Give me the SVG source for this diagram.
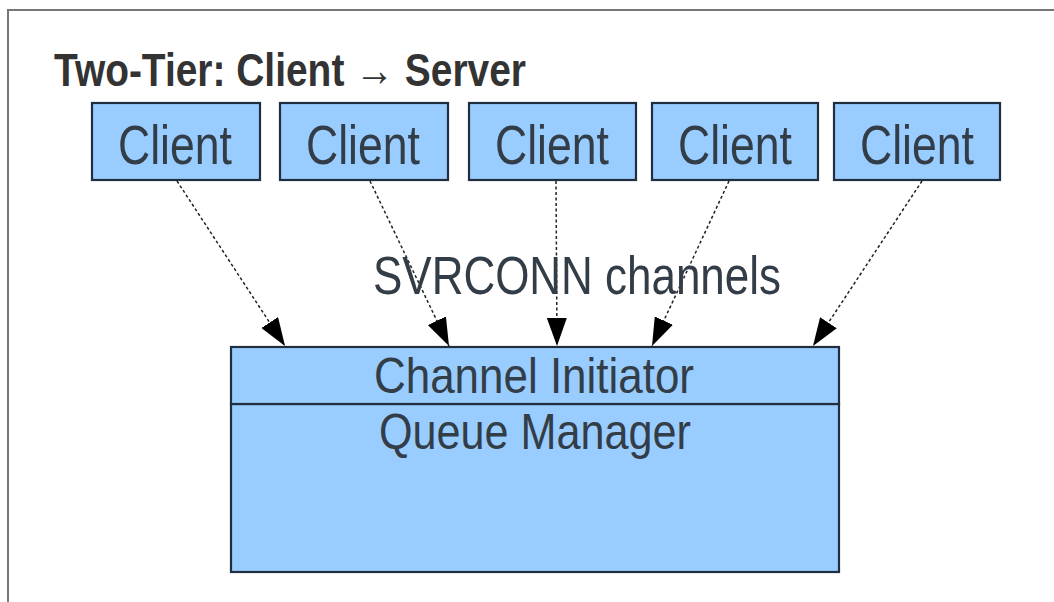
<svg xmlns="http://www.w3.org/2000/svg" width="1054" height="602" viewBox="0 0 1054 602">
<style>
.box{fill:#99ccff;stroke:#1f2f3f;stroke-width:2.2}
.lbl{font-family:"Liberation Sans",Arial,sans-serif;font-size:54px;fill:#333d47;text-anchor:middle}
.cl{font-size:56px}
.mg{font-size:50px}
.title{font-family:"Liberation Sans",Arial,sans-serif;font-size:46px;font-weight:bold;fill:#333}
.conn{stroke:#222;stroke-width:1.5;stroke-dasharray:3,2.5;fill:none}
</style>
<defs>
<marker id="ah" viewBox="0 0 10 10" refX="10" refY="5" markerWidth="28" markerHeight="20" markerUnits="userSpaceOnUse" orient="auto" preserveAspectRatio="none">
<path d="M0,0 L10,5 L0,10 z" fill="#000"/>
</marker>
</defs>
<rect x="0" y="0" width="1054" height="602" fill="#fff"/>
<g id="frame">
<path d="M8,602 L8,10 L1054,10" fill="none" stroke="#777" stroke-width="2"/>
</g>
<text class="title" x="54" y="86" textLength="472" lengthAdjust="spacingAndGlyphs">Two-Tier: Client → Server</text>
<g id="client1"><rect class="box" x="92" y="103" width="168" height="77"/><text class="lbl cl" x="175" y="164" textLength="114" lengthAdjust="spacingAndGlyphs">Client</text></g>
<g id="client2"><rect class="box" x="280" y="103" width="168" height="77"/><text class="lbl cl" x="363" y="164" textLength="114" lengthAdjust="spacingAndGlyphs">Client</text></g>
<g id="client3"><rect class="box" x="469" y="103" width="167" height="77"/><text class="lbl cl" x="552" y="164" textLength="114" lengthAdjust="spacingAndGlyphs">Client</text></g>
<g id="client4"><rect class="box" x="652" y="103" width="166" height="77"/><text class="lbl cl" x="735" y="164" textLength="114" lengthAdjust="spacingAndGlyphs">Client</text></g>
<g id="client5"><rect class="box" x="834" y="103" width="166" height="77"/><text class="lbl cl" x="917" y="164" textLength="114" lengthAdjust="spacingAndGlyphs">Client</text></g>
<g id="qmgr">
<rect class="box" x="231" y="404" width="608" height="168"/>
<text class="lbl mg" x="535" y="449" textLength="312" lengthAdjust="spacingAndGlyphs">Queue Manager</text>
</g>
<g id="chinit">
<rect class="box" x="231" y="347" width="608" height="57"/>
<text class="lbl mg" x="534" y="393" textLength="320" lengthAdjust="spacingAndGlyphs">Channel Initiator</text>
</g>
<g id="connectors">
<line class="conn" x1="177" y1="181" x2="285" y2="346" marker-end="url(#ah)"/>
<line class="conn" x1="370" y1="181" x2="449" y2="346" marker-end="url(#ah)"/>
<line class="conn" x1="556" y1="181" x2="557" y2="346" marker-end="url(#ah)"/>
<line class="conn" x1="729" y1="181" x2="652" y2="346" marker-end="url(#ah)"/>
<line class="conn" x1="922" y1="181" x2="813" y2="346" marker-end="url(#ah)"/>
</g>
<text class="lbl" x="577" y="294" font-size="50" textLength="408" lengthAdjust="spacingAndGlyphs">SVRCONN channels</text>
</svg>
